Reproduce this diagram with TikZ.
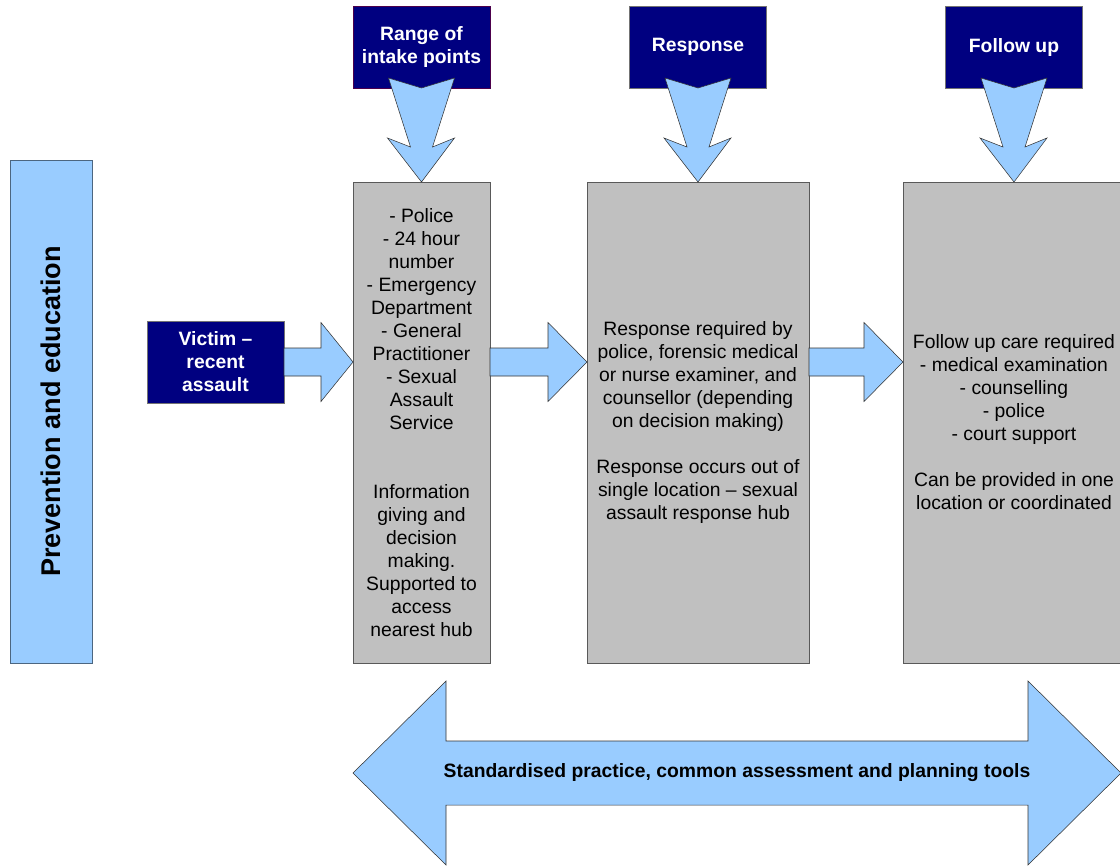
\documentclass[tikz,border=0pt]{standalone}
\usepackage{fontspec}
\setmainfont{Liberation Sans}
\usetikzlibrary{positioning, calc}

\definecolor{navy}{HTML}{000080}
\definecolor{skyblue}{HTML}{99CCFF}
\definecolor{boxgray}{HTML}{C0C0C0}

\begin{document}
\begin{tikzpicture}[
    x=0.75pt, y=-0.75pt,
    every node/.style={inner sep=0pt, outer sep=0pt},
    txt/.style={font=\fontsize{14.5}{17.25}\selectfont},
    stage/.style={rectangle, draw=black!65, fill=boxgray, txt, align=center, minimum height=360.75pt},
    label/.style={rectangle, draw=black!55, fill=navy, text=white, font=\fontsize{14.5}{17.25}\selectfont\bfseries, align=center, minimum width=102.75pt, minimum height=61.5pt},
    blockarrow/.style={draw=black!80, fill=skyblue, line join=miter}
  ]
    \clip (0,0) rectangle (1120,865);

    % Stages
    \node[stage, minimum width=102.75pt] (intake) at (421.5,422.5) {- Police\\- 24 hour\\number\\- Emergency\\Department\\- General\\Practitioner\\- Sexual\\Assault\\Service\\[2\baselineskip]Information\\giving and\\decision\\making.\\Supported to\\access\\nearest hub};
    \node[stage, minimum width=166.5pt, right=72.75pt of intake] (resp) {Response required by\\police, forensic medical\\or nurse examiner, and\\counsellor (depending\\on decision making)\\[\baselineskip]Response occurs out of\\single location -- sexual\\assault response hub};
    \node[stage, minimum width=166.5pt, right=70.5pt of resp] (follow) {Follow up care required\\- medical examination\\- counselling\\- police\\- court support\\[\baselineskip]Can be provided in one\\location or coordinated};

    % Headings above the stages
    \node[label, draw=violet!60!black, above=70.5pt of intake] (intaketop) {Range of\\intake points};
    \node[label, above=70.5pt of resp] (resptop) {Response};
    \node[label, above=70.5pt of follow] (followtop) {Follow up};

    \node[label] (victim) at (215.5,362) {Victim --\\recent\\assault};
    \node[rectangle, draw=black!50!skyblue, fill=skyblue, minimum width=61.5pt, minimum height=377.25pt] (prev) at (51,411.5)
        {\rotatebox{90}{\fontsize{20.3}{24}\selectfont\bfseries Prevention and education}};

    % Down arrows from the headings
    \foreach \t/\b in {intaketop/intake, resptop/resp, followtop/follow}
      \draw[blockarrow] ($(\t.south)+(-33,-10)$) -- (\t.south) -- ($(\t.south)+(33,-10)$)
        -- ($(\b.north)+(11,-35)$) -- ($(\b.north)+(33,-44)$) -- (\b.north)
        -- ($(\b.north)+(-34,-44)$) -- ($(\b.north)+(-11,-35)$) -- cycle;

    % Arrows between stages
    \draw[blockarrow] ($(victim.east)+(0,-14)$) -- ($(intake.west |- victim.east)+(-32,-14)$)
      -- ($(intake.west |- victim.east)+(-32,-39.5)$) -- (intake.west |- victim.east)
      -- ($(intake.west |- victim.east)+(-32,39.5)$) -- ($(intake.west |- victim.east)+(-32,14)$)
      -- ($(victim.east)+(0,14)$) -- cycle;
    \foreach \a/\b in {intake/resp, resp/follow}
      \draw[blockarrow] ($(\a.east |- victim.east)+(0,-14)$) -- ($(\b.west |- victim.east)+(-39,-14)$)
        -- ($(\b.west |- victim.east)+(-39,-39.5)$) -- (\b.west |- victim.east)
        -- ($(\b.west |- victim.east)+(-39,39.5)$) -- ($(\b.west |- victim.east)+(-39,14)$)
        -- ($(\a.east |- victim.east)+(0,14)$) -- cycle;

    % Double arrow along the bottom
    \coordinate (stdL) at ($(intake.south west)+(0,110)$);
    \coordinate (stdR) at ($(follow.south east)+(-4,110)$);
    \draw[blockarrow] (stdL) -- ($(stdL)+(93,-92)$) -- ($(stdL)+(93,-32)$) -- ($(stdR)+(-93,-32)$)
      -- ($(stdR)+(-93,-92)$) -- (stdR) -- ($(stdR)+(-93,92)$) -- ($(stdR)+(-93,32)$)
      -- ($(stdL)+(93,32)$) -- ($(stdL)+(93,92)$) -- cycle;
    \node[font=\fontsize{14.5}{17}\selectfont\bfseries] (std) at ($(stdL)!0.5!(stdR)$) {Standardised practice, common assessment and planning tools};
\end{tikzpicture}
\end{document}
